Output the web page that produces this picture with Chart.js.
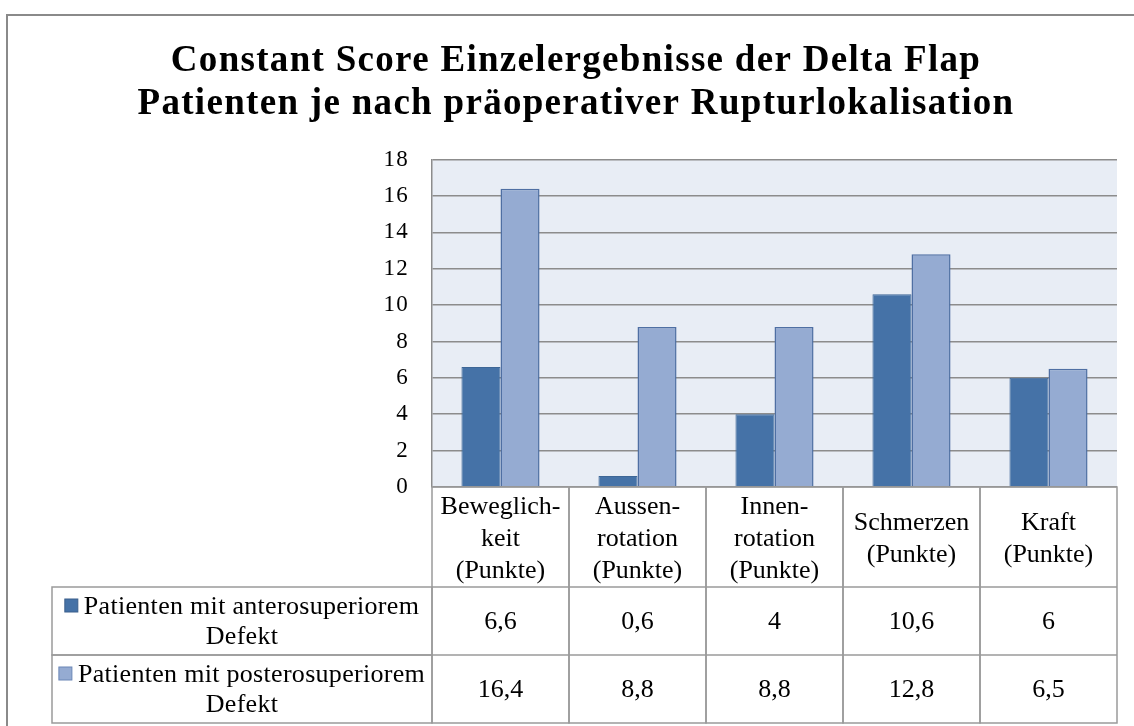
<!DOCTYPE html>
<html>
<head>
<meta charset="utf-8">
<script src="https://cdn.jsdelivr.net/npm/chart.js@4/dist/chart.umd.min.js"></script>
<style>
  html, body { margin: 0; padding: 0; background: #fff; }
  canvas { display: block; }
</style>
</head>
<body>
<canvas id="deltaFlapChart" width="1134" height="726"></canvas>
<script>
const categories = [
  ['Beweglich-', 'keit', '(Punkte)'],
  ['Aussen-', 'rotation', '(Punkte)'],
  ['Innen-', 'rotation', '(Punkte)'],
  ['Schmerzen', '(Punkte)'],
  ['Kraft', '(Punkte)']
];
const anterosuperior = [6.6, 0.6, 4, 10.6, 6];
const posterosuperior = [16.4, 8.8, 8.8, 12.8, 6.5];
const seriesNames = [
  ['Patienten mit anterosuperiorem', 'Defekt'],
  ['Patienten mit posterosuperiorem', 'Defekt']
];
const titleLines = [
  'Constant Score Einzelergebnisse der Delta Flap',
  'Patienten je nach präoperativer Rupturlokalisation'
];

const serif = '"Liberation Serif", "Times New Roman", serif';
const darkBlue = '#4572a7';
const lightBlue = '#95abd2';
const lineGray = '#8c8c8c';

// plot background + outer frame, wider letters for the title
const backdrop = {
  id: 'backdrop',
  beforeDraw(chart) {
    const { ctx, chartArea: a } = chart;
    ctx.save();
    ctx.fillStyle = '#fff';
    ctx.fillRect(0, 0, chart.width, chart.height);
    ctx.strokeStyle = '#8a8a8a';
    ctx.lineWidth = 2;
    ctx.strokeRect(7, 15, chart.width + 20, chart.height + 20);
    ctx.fillStyle = '#e8edf5';
    ctx.fillRect(a.left, a.top, a.right - a.left, a.bottom - a.top);
    ctx.restore();
    ctx.letterSpacing = '1.3px';
  },
  beforeDatasetsDraw(chart) {
    chart.ctx.letterSpacing = '0px';
  }
};

// Excel style data table under the plot
const dataTable = {
  id: 'dataTable',
  afterDraw(chart) {
    const { ctx, chartArea: a } = chart;
    const x = chart.scales.x;
    const n = categories.length;
    const colW = (a.right - a.left) / n;
    const headH = 100, rowH = 68;
    const legendLeft = 52;
    const top = a.bottom;
    const rows = [anterosuperior, posterosuperior];
    const colors = [darkBlue, lightBlue];

    ctx.save();
    ctx.letterSpacing = '0px';
    ctx.strokeStyle = '#9a9a9a';
    ctx.lineWidth = 1.5;
    ctx.fillStyle = '#000';
    ctx.textAlign = 'center';
    ctx.textBaseline = 'middle';

    // header cells
    ctx.font = '26px ' + serif;
    categories.forEach((lines, i) => {
      const cx = x.getPixelForValue(i);
      const left = cx - colW / 2;
      ctx.strokeRect(left, top, colW, headH + rowH * 2);
      const lh = 32;
      const y0 = top + 20 + (3 - lines.length) * lh / 2;
      lines.forEach((t, k) => ctx.fillText(t, cx, y0 + k * lh));
    });

    // data rows
    rows.forEach((vals, r) => {
      const y = top + headH + r * rowH;
      ctx.strokeRect(legendLeft, y, a.left - legendLeft, rowH);
      ctx.beginPath();
      ctx.moveTo(a.left, y);
      ctx.lineTo(a.right, y);
      ctx.stroke();

      ctx.font = '26px ' + serif;
      ctx.letterSpacing = '0.3px';
      const name = seriesNames[r];
      const midX = (legendLeft + a.left) / 2;
      ctx.textAlign = 'left';
      const w1 = ctx.measureText(name[0]).width;
      const tx = midX - (w1 + 19) / 2 + 19;
      ctx.fillStyle = colors[r];
      ctx.fillRect(tx - 19, y + 12, 13, 13);
      ctx.strokeStyle = r === 0 ? '#3b5f8c' : '#6a86b6';
      ctx.lineWidth = 1;
      ctx.strokeRect(tx - 19, y + 12, 13, 13);
      ctx.fillStyle = '#000';
      ctx.fillText(name[0], tx, y + 20);
      ctx.textAlign = 'center';
      ctx.fillText(name[1], midX, y + 50);
      ctx.letterSpacing = '0px';
      ctx.strokeStyle = '#9a9a9a';
      ctx.lineWidth = 1.5;

      vals.forEach((v, i) => {
        ctx.fillText(String(v).replace('.', ','), x.getPixelForValue(i), y + rowH / 2 + 1);
      });
    });
    ctx.restore();
  }
};

new Chart(document.getElementById('deltaFlapChart'), {
  type: 'bar',
  data: {
    labels: categories,
    datasets: [{
      label: seriesNames[0].join(' '),
      data: anterosuperior,
      backgroundColor: darkBlue,
      borderColor: '#3d6696',
      borderWidth: 1
    }, {
      label: seriesNames[1].join(' '),
      data: posterosuperior,
      backgroundColor: lightBlue,
      borderColor: '#4f6fa3',
      borderWidth: 1.5
    }]
  },
  options: {
    responsive: false,
    animation: false,
    categoryPercentage: 0.57,
    barPercentage: 1,
    layout: { padding: { left: 35, right: 17, top: 0, bottom: 0 } },
    plugins: {
      legend: { display: false },
      tooltip: { enabled: false },
      title: {
        display: true,
        text: titleLines,
        color: '#000',
        font: { family: serif, size: 37, weight: 'bold', lineHeight: 1.17 },
        padding: { top: 40, bottom: 33 }
      }
    },
    scales: {
      x: {
        ticks: { display: false },
        grid: { display: false },
        border: { display: false },
        afterFit: (s) => { s.height = 239; }
      },
      y: {
        min: 0,
        max: 18,
        ticks: { stepSize: 2, color: '#000', padding: 23, font: { family: serif, size: 23 } },
        grid: { color: lineGray, lineWidth: 1.5, drawTicks: false },
        border: { display: true, color: lineGray, width: 1.5 },
        afterFit: (s) => { s.width = 397; }
      }
    }
  },
  plugins: [backdrop, dataTable]
});
</script>
</body>
</html>
